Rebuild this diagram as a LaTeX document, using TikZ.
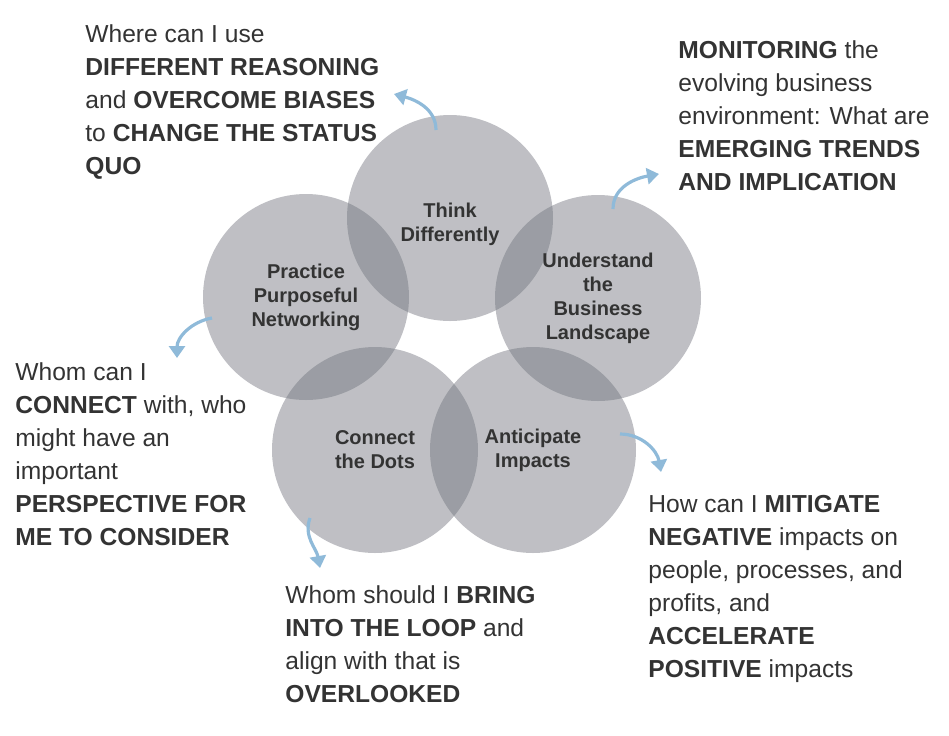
\documentclass[tikz,border=0pt]{standalone}
\usepackage{fontspec}
\setmainfont{Liberation Sans}
\usetikzlibrary{arrows.meta}
\definecolor{ringgray}{RGB}{112,114,124}
\definecolor{textgray}{RGB}{51,51,51}
\definecolor{arrowblue}{RGB}{143,186,217}
\tikzset{
  ring/.style={circle, minimum size=103pt, inner sep=0, fill=ringgray, fill opacity=0.45, text opacity=1},
  ringlabel/.style={text=textgray, align=center, font=\bfseries\fontsize{10}{12}\selectfont},
  note/.style={anchor=north west, inner sep=0, align=left, text=textgray, font=\fontsize{12.3}{16.5}\selectfont},
  hint/.style={arrowblue, line width=1.6pt, -{Triangle[length=6pt,width=8pt]}}
}
\begin{document}
\begin{tikzpicture}[x=0.5pt,y=-0.5pt]
  \useasboundingbox (0,0) rectangle (949,735);
  % the five circles
  \node [ring] (think) at (450,218) {};
  \node [ring] (land) at (598,298) {};
  \node [ring] (net) at (306,297) {};
  \node [ring] (dots) at (375,450) {};
  \node [ring] (impact) at (533,450) {};
  \node [ringlabel] at (think) [yshift=-3] {Think\\Differently};
  \node [ringlabel] at (land) {Understand\\the\\Business\\Landscape};
  \node [ringlabel] at (net) {Practice\\Purposeful\\Networking};
  \node [ringlabel] at (dots) {Connect\\the Dots};
  \node [ringlabel] at (impact) {Anticipate\\Impacts};

  % questions
  \node [note] (qthink) at (85,24) {Where can I use\\\textbf{DIFFERENT REASONING}\\and \textbf{OVERCOME BIASES}\\to \textbf{CHANGE THE STATUS}\\\textbf{QUO}};
  \node [note] (qland) at (678,40) {\textbf{MONITORING} the\\evolving business\\environment: What are\\\textbf{EMERGING TRENDS}\\\textbf{AND IMPLICATION}};
  \node [note] (qnet) at (15,362) {Whom can I\\\textbf{CONNECT} with, who\\might have an\\important\\\textbf{PERSPECTIVE FOR}\\\textbf{ME TO CONSIDER}};
  \node [note] (qdots) at (285,585) {Whom should I \textbf{BRING}\\\textbf{INTO THE LOOP} and\\align with that is\\\textbf{OVERLOOKED}};
  \node [note] (qimpact) at (648,495) {How can I \textbf{MITIGATE}\\\textbf{NEGATIVE} impacts on\\people, processes, and\\profits, and\\\textbf{ACCELERATE}\\\textbf{POSITIVE} impacts};

  % small arrows
  \coordinate (t1) at (436,130); \coordinate (t2) at (394,94);
  \coordinate (l1) at (613,209); \coordinate (l2) at (659,174);
  \coordinate (n1) at (212,318); \coordinate (n2) at (177,358);
  \coordinate (d1) at (310,518); \coordinate (d2) at (320,568);
  \coordinate (i1) at (620,434); \coordinate (i2) at (661,472);
  \draw [hint] (t1) to[out=90,in=-15] (t2);
  \draw [hint] (l1) to[out=90,in=190] (l2);
  \draw [hint] (n1) to[out=190,in=90] (n2);
  \draw [hint] (d1) to[out=-110,in=100] (d2);
  \draw [hint] (i1) to[out=0,in=100] (i2);
\end{tikzpicture}
\end{document}
